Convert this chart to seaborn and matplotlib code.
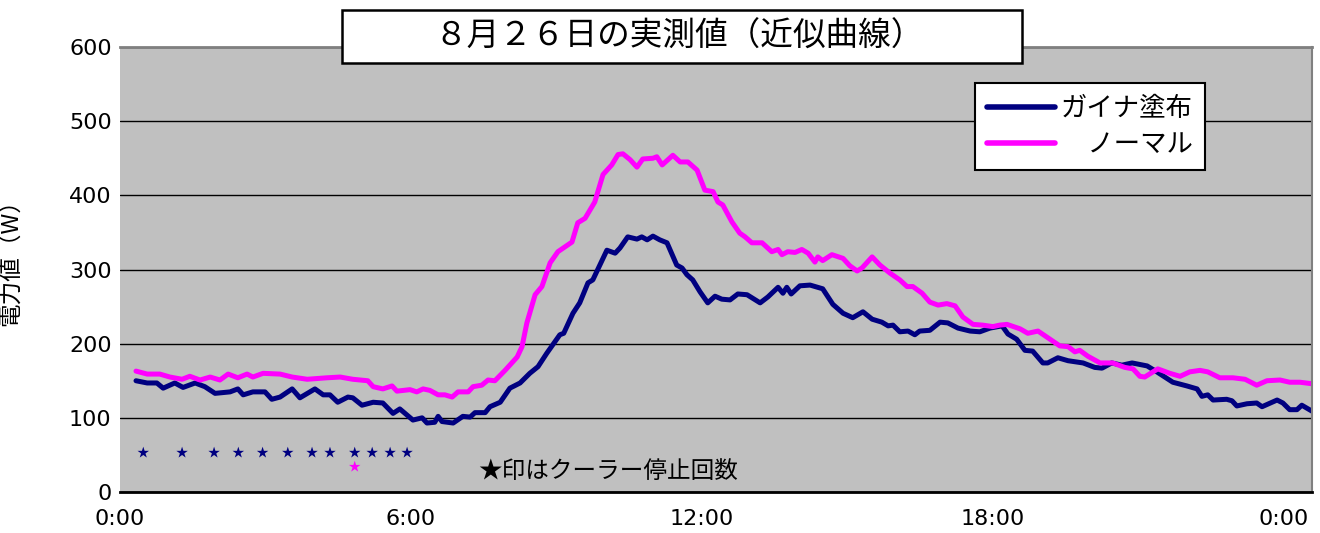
import matplotlib
matplotlib.use("Agg")
import matplotlib.pyplot as plt
from matplotlib.patches import Rectangle
import pandas as pd
import seaborn as sns

# 8/26 measured power (W), x in hours from 0:00
gaina_h = [0.33, 0.56, 0.76, 0.89, 1.13, 1.30, 1.55, 1.75, 1.96, 2.27, 2.43, 2.54, 2.74, 2.99,
           3.13, 3.30, 3.55, 3.71, 4.02, 4.19, 4.33, 4.49, 4.70, 4.80, 4.99, 5.22, 5.42, 5.63,
           5.77, 6.04, 6.23, 6.33, 6.49, 6.56, 6.64, 6.87, 7.07, 7.22, 7.32, 7.53, 7.63, 7.84,
           8.04, 8.25, 8.45, 8.62, 8.80, 9.07, 9.15, 9.34, 9.48, 9.65, 9.75, 10.04, 10.21, 10.31,
           10.47, 10.66, 10.76, 10.87, 10.99, 11.13, 11.28, 11.48, 11.59, 11.69, 11.81, 11.96,
           12.12, 12.27, 12.41, 12.58, 12.74, 12.93, 13.20, 13.36, 13.57, 13.67, 13.75, 13.84,
           14.02, 14.23, 14.49, 14.70, 14.91, 15.11, 15.32, 15.51, 15.71, 15.84, 15.94, 16.08,
           16.25, 16.39, 16.49, 16.70, 16.91, 17.07, 17.28, 17.53, 17.73, 17.94, 18.19, 18.31,
           18.49, 18.66, 18.82, 19.03, 19.13, 19.34, 19.55, 19.86, 20.10, 20.25, 20.45, 20.66,
           20.87, 21.18, 21.38, 21.71, 22.00, 22.21, 22.31, 22.43, 22.54, 22.82, 22.93, 23.03,
           23.24, 23.44, 23.55, 23.86, 23.98, 24.12, 24.27, 24.37, 24.58]
gaina_w = [150, 147, 147, 140, 147, 141, 147, 142, 133, 135, 139, 131, 135, 135,
           125, 128, 139, 127, 139, 131, 131, 121, 128, 127, 117, 121, 120, 106,
           112, 97, 100, 93, 94, 102, 95, 93, 102, 101, 107, 107, 115, 121,
           140, 147, 160, 169, 187, 212, 214, 241, 255, 282, 286, 326, 322, 329,
           344, 341, 344, 340, 345, 340, 336, 306, 302, 293, 286, 270,
           255, 264, 260, 259, 267, 266, 255, 263, 276, 268, 276, 267,
           278, 279, 274, 253, 241, 235, 243, 233, 229, 224, 225, 216,
           217, 212, 217, 218, 229, 228, 221, 217, 216, 221, 224, 213,
           206, 191, 190, 174, 174, 181, 177, 174, 168, 167, 174, 171,
           174, 170, 162, 148, 143, 139, 129, 131, 124, 125, 123, 116,
           119, 120, 115, 124, 120, 111, 111, 117, 109]

normal_h = [0.33, 0.56, 0.82, 1.03, 1.28, 1.44, 1.65, 1.86, 2.06, 2.23, 2.43, 2.62, 2.74, 2.95,
            3.30, 3.55, 3.86, 4.27, 4.54, 4.80, 5.11, 5.22, 5.42, 5.61, 5.71, 5.98, 6.12, 6.25,
            6.39, 6.56, 6.70, 6.85, 6.97, 7.18, 7.28, 7.46, 7.59, 7.73, 7.94, 8.19, 8.29, 8.39,
            8.56, 8.70, 8.87, 9.03, 9.32, 9.44, 9.59, 9.79, 9.96, 10.14, 10.27, 10.37, 10.52,
            10.66, 10.78, 10.99, 11.07, 11.18, 11.40, 11.55, 11.71, 11.90, 12.06, 12.23, 12.33,
            12.43, 12.62, 12.78, 12.89, 13.03, 13.24, 13.44, 13.57, 13.65, 13.77, 13.92, 14.06,
            14.19, 14.33, 14.39, 14.49, 14.68, 14.91, 15.05, 15.20, 15.30, 15.51, 15.67, 15.88,
            16.08, 16.23, 16.35, 16.54, 16.70, 16.87, 17.05, 17.22, 17.38, 17.59, 17.79, 18.00,
            18.14, 18.29, 18.56, 18.72, 18.93, 19.11, 19.38, 19.55, 19.69, 19.79, 19.96, 20.21,
            20.47, 20.72, 20.89, 21.03, 21.13, 21.40, 21.65, 21.86, 22.06, 22.27, 22.43, 22.68,
            22.95, 23.20, 23.44, 23.65, 23.92, 24.12, 24.33, 24.58]
normal_w = [163, 159, 159, 155, 152, 156, 151, 155, 151, 159, 154, 159, 155, 160,
            159, 155, 152, 154, 155, 152, 150, 142, 139, 143, 136, 138, 135, 139,
            137, 131, 131, 128, 135, 135, 142, 144, 151, 150, 164, 182, 196, 228,
            266, 277, 309, 324, 337, 363, 369, 391, 428, 441, 455, 456, 448,
            438, 449, 450, 452, 441, 454, 445, 445, 434, 407, 405, 391,
            387, 364, 349, 344, 336, 336, 324, 327, 320, 324, 323, 327,
            322, 310, 317, 312, 320, 315, 305, 298, 302, 317, 306, 295,
            286, 277, 277, 268, 256, 252, 254, 251, 236, 226, 225, 223,
            225, 226, 220, 214, 217, 209, 197, 196, 189, 191, 183, 174,
            174, 168, 166, 156, 155, 166, 160, 156, 162, 164, 162, 154,
            154, 152, 144, 150, 151, 148, 148, 146]

# cooler stop times (hours)
stops_gaina = [0.48, 1.28, 1.94, 2.44, 2.94, 3.46, 3.96, 4.33, 4.84, 5.20, 5.57, 5.92]
stops_normal = [4.84]
stop_level_gaina = 53
stop_level_normal = 34

series_names = ["ガイナ塗布", "ノーマル"]
colors = {"ガイナ塗布": "#000080", "ノーマル": "#FF00FF"}
xtick_pos = [0, 6, 12, 18, 24]
xtick_labels = ["0:00", "6:00", "12:00", "18:00", "0:00"]
title = "８月２６日の実測値（近似曲線）"

df = pd.concat([
    pd.DataFrame({"hour": gaina_h, "W": gaina_w, "series": series_names[0]}),
    pd.DataFrame({"hour": normal_h, "W": normal_w, "series": series_names[1]}),
])
stars = pd.concat([
    pd.DataFrame({"hour": stops_gaina, "y": stop_level_gaina, "series": series_names[0]}),
    pd.DataFrame({"hour": stops_normal, "y": stop_level_normal, "series": series_names[1]}),
])

sns.set_style("white")
plt.rcParams["font.family"] = ["Noto Sans CJK JP", "DejaVu Sans"]
plt.rcParams["text.color"] = "black"
plt.rcParams["axes.labelcolor"] = "black"
plt.rcParams["xtick.color"] = "black"
plt.rcParams["ytick.color"] = "black"

fig = plt.figure(figsize=(13.2, 5.33), dpi=100)
ax = fig.add_axes([120 / 1320, 1 - 492 / 533, 1192 / 1320, 445 / 533])
ax.set_facecolor("#C0C0C0")

sns.lineplot(data=df, x="hour", y="W", hue="series", hue_order=series_names,
             palette=colors, linewidth=3.6, estimator=None, sort=False,
             legend=False, ax=ax)
sns.scatterplot(data=stars, x="hour", y="y", hue="series", hue_order=series_names,
                palette=colors, marker="*", s=75, linewidth=0, legend=False, ax=ax)

ax.set_xlim(0, 24.58)
ax.set_ylim(0, 600)
ax.set_yticks(range(0, 601, 100))
ax.set_xticks(xtick_pos)
ax.set_xticklabels(xtick_labels)
for lbl in ax.get_xticklabels() + ax.get_yticklabels():
    lbl.set_fontfamily("DejaVu Sans")
    lbl.set_fontsize(16)
ax.tick_params(axis="both", length=0)
ax.tick_params(axis="x", pad=12)
ax.tick_params(axis="y", pad=6)
ax.grid(axis="y", color="black", linewidth=1)
ax.set_axisbelow(True)
ax.set_xlabel("")
ax.set_ylabel("電力値（W）", fontsize=17)
ax.yaxis.set_label_coords(-0.082, 0.53)

ax.spines["left"].set_visible(False)
ax.spines["top"].set_color("#808080")
ax.spines["top"].set_linewidth(2)
ax.spines["right"].set_color("#808080")
ax.spines["right"].set_linewidth(1.5)
ax.spines["bottom"].set_color("black")
ax.spines["bottom"].set_linewidth(2)

ax.text(7.38, 27, "★印はクーラー停止回数", fontsize=17, va="center", ha="left")

leg = ax.legend(ax.lines[:2], ["ガイナ塗布", "\u3000ノーマル"], loc="upper left",
                bbox_to_anchor=(975 / 1320, 1 - 83 / 533), bbox_transform=fig.transFigure,
                fontsize=19, frameon=True, fancybox=False, framealpha=1,
                edgecolor="black", borderpad=0.45, labelspacing=0.35,
                handlelength=2.6, handletextpad=0.2, borderaxespad=0)
leg.get_frame().set_linewidth(1.5)
for h in leg.legend_handles:
    h.set_linewidth(4)

fig.add_artist(Rectangle((342 / 1320, 1 - 63 / 533), 680 / 1320, 53 / 533,
                         transform=fig.transFigure, facecolor="white",
                         edgecolor="black", linewidth=1.8, zorder=5))
fig.text(679 / 1320, 1 - 37 / 533, title, fontsize=23.5, ha="center", va="center", zorder=6)

fig.savefig("out.png", dpi=100)
